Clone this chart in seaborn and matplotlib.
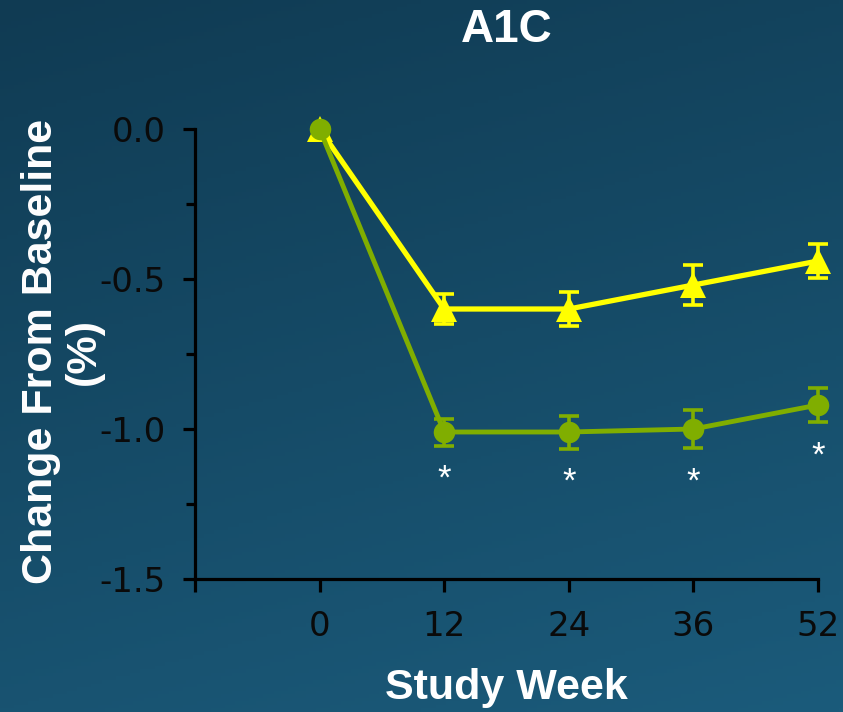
import numpy as np
import pandas as pd
import matplotlib
matplotlib.use("Agg")
import matplotlib.pyplot as plt
from matplotlib.ticker import MultipleLocator
import seaborn as sns

# Study week labels (drawn at evenly spaced positions, like the original slide)
weeks = ["0", "12", "24", "36", "52"]

# Yellow series (triangles)
yellow_mean = [0.0, -0.60, -0.60, -0.52, -0.44]
yellow_err = [0.0, 0.050, 0.058, 0.068, 0.058]

# Green series (circles)
green_mean = [0.0, -1.01, -1.01, -1.00, -0.92]
green_err = [0.0, 0.045, 0.055, 0.063, 0.058]

# Significance markers under the green series
stars = ["", "*", "*", "*", "*"]

YELLOW = "#ffff00"
GREEN = "#80ae00"


def draw_background(fig):
    # diagonal dark teal gradient, top-left darker
    bg = fig.add_axes([0, 0, 1, 1], zorder=-10)
    h, w = 200, 240
    yy, xx = np.mgrid[0:1:h * 1j, 0:1:w * 1j]
    t = (0.75 * yy + 0.25 * xx)[..., None]
    c0 = np.array([0x10, 0x3b, 0x53]) / 255
    c1 = np.array([0x1b, 0x5b, 0x7b]) / 255
    bg.imshow(c0 + (c1 - c0) * t, aspect="auto", extent=[0, 1, 0, 1])
    bg.set_axis_off()


def main():
    sns.set_style("ticks")
    plt.rcParams["font.family"] = ["DejaVu Sans"]

    df = pd.DataFrame({
        "pos": np.arange(len(weeks)),
        "yellow": yellow_mean,
        "green": green_mean,
    })

    fig = plt.figure(figsize=(8.43, 7.12), dpi=100)
    draw_background(fig)
    ax = fig.add_axes([0.2313, 0.1868, 0.7390, 0.6320])
    ax.patch.set_alpha(0)

    # lines + markers
    sns.lineplot(data=df, x="pos", y="yellow", ax=ax, color=YELLOW, linewidth=3.8,
                 marker="^", markersize=19, markeredgewidth=0, clip_on=False, zorder=3)
    sns.lineplot(data=df, x="pos", y="green", ax=ax, color=GREEN, linewidth=3.5,
                 marker="o", markersize=15.5, markeredgewidth=0, clip_on=False, zorder=4)

    # error bars
    ax.errorbar(df["pos"], yellow_mean, yerr=yellow_err, fmt="none", ecolor=YELLOW,
                elinewidth=2.6, capsize=7, capthick=2.6, zorder=3, clip_on=False)
    ax.errorbar(df["pos"], green_mean, yerr=green_err, fmt="none", ecolor=GREEN,
                elinewidth=2.6, capsize=7, capthick=2.6, zorder=4, clip_on=False)

    # asterisks below the lower whisker
    for p, m, e, s in zip(df["pos"], green_mean, green_err, stars):
        if s:
            ax.annotate(s, xy=(p, m - e), xytext=(0, -34), textcoords="offset pixels",
                        ha="center", va="center", color="white", fontsize=25,
                        family="Liberation Sans")

    # axes limits and ticks
    ax.set_xlim(-1, 4)
    ax.set_ylim(-1.5, 0.0)
    ax.set_xticks(np.arange(-1, len(weeks)))
    ax.set_xticklabels([""] + weeks)
    ax.yaxis.set_major_locator(MultipleLocator(0.5))
    ax.yaxis.set_minor_locator(MultipleLocator(0.25))
    ax.yaxis.set_major_formatter(matplotlib.ticker.FormatStrFormatter("%.1f"))

    for side in ["top", "right"]:
        ax.spines[side].set_visible(False)
    for side in ["left", "bottom"]:
        ax.spines[side].set_linewidth(2.3)
        ax.spines[side].set_color("black")
    ax.tick_params(axis="both", which="major", length=9, width=2.3, color="black",
                   labelsize=24.5, labelcolor="#0a0a0a")
    ax.tick_params(axis="x", pad=13)
    ax.tick_params(axis="y", pad=12)
    ax.tick_params(axis="y", which="minor", length=6.5, width=2.3, color="black")

    # labels
    ax.set_title("A1C", color="white", fontsize=33, fontweight="bold",
                 family="Liberation Sans", y=1.175)
    ax.set_xlabel("Study Week", color="white", fontsize=31, fontweight="bold",
                  family="Liberation Sans")
    ax.xaxis.set_label_coords(0.5, -0.242)
    ax.xaxis.label.set_verticalalignment("center")
    ax.set_ylabel("Change From Baseline\n(%)", color="white", fontsize=31,
                  fontweight="bold", family="Liberation Sans", linespacing=1.1)
    ax.yaxis.set_label_coords(-0.213, 0.505)
    ax.yaxis.label.set_verticalalignment("center")

    fig.savefig("out.png", dpi=100)
    plt.close(fig)


if __name__ == "__main__":
    main()
